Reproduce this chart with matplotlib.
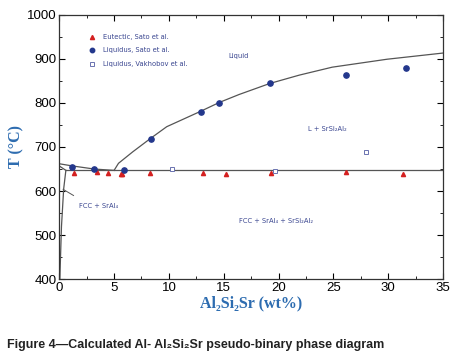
import matplotlib.pyplot as plt
from matplotlib.ticker import MultipleLocator

eut_x = [1.3, 3.4, 4.4, 5.6, 5.75, 8.3, 13.1, 15.2, 19.3, 26.2, 31.4]
eut_y = [640, 643, 642, 639, 639, 640, 642, 639, 640, 643, 638]

liq_sato_x = [1.2, 3.2, 5.9, 8.35, 12.9, 14.55, 19.2, 26.15, 31.6]
liq_sato_y = [655, 650, 648, 719, 780, 799, 844, 863, 879]

liq_vak_x = [10.3, 19.7, 28.0]
liq_vak_y = [650, 645, 689]

# calculated boundaries
liquidus_x = [5.0, 5.4, 6.7, 8.3, 9.8, 12.9, 14.6, 16.4, 19.2, 21.9, 24.9, 29.9, 35.0]
liquidus_y = [647, 663, 689, 719, 746, 781, 801, 819, 844, 863, 881, 899, 913]
al_liq_x = [0.0, 1.2, 3.2, 5.0]
al_liq_y = [662, 657, 650, 647]
solidus_x = [0.0, 0.6]
solidus_y = [657, 647]
solvus_x = [0.05, 0.2, 0.4, 0.6]
solvus_y = [400, 520, 605, 647]
eutectic_x = [0.6, 35.0]
eutectic_y = [647, 647]

fig = plt.figure(figsize=(4.65, 3.54), dpi=100)
ax = fig.add_axes([0.1275, 0.211, 0.825, 0.7475])

lc = '#555555'
for xs, ys in [(liquidus_x, liquidus_y), (al_liq_x, al_liq_y), (solidus_x, solidus_y),
               (solvus_x, solvus_y), (eutectic_x, eutectic_y)]:
    ax.plot(xs, ys, color=lc, lw=0.9)
# leader line for the FCC label
ax.plot([0.35, 1.3], [604, 590], color=lc, lw=0.7)

red = '#d42020'
navy = '#23378c'
sq = '#6a72b0'
ax.plot(eut_x, eut_y, '^', color=red, ms=3, ls='none')
ax.plot(liq_sato_x, liq_sato_y, 'o', color=navy, ms=3.8, ls='none')
ax.plot(liq_vak_x, liq_vak_y, 's', mfc='white', mec=sq, mew=0.7, ms=3.3, ls='none')

# legend drawn by hand
tc = '#3a4690'
ax.plot(3.0, 949, '^', color=red, ms=3)
ax.plot(3.0, 919, 'o', color=navy, ms=3.2)
ax.plot(3.0, 889, 's', mfc='white', mec=sq, mew=0.7, ms=3)
fs = 4.9
ax.text(4.0, 949, 'Eutectic, Sato et al.', color=tc, fontsize=fs, va='center')
ax.text(4.0, 919, 'Liquidus, Sato et al.', color=tc, fontsize=fs, va='center')
ax.text(4.0, 889, 'Liquidus, Vakhobov et al.', color=tc, fontsize=fs, va='center')

ax.text(16.4, 906, 'Liquid', color=tc, fontsize=fs, ha='center', va='center')
ax.text(24.5, 740, 'L + SrSi₂Al₂', color=tc, fontsize=fs, ha='center', va='center')
ax.text(3.6, 566, 'FCC + SrAl₄', color=tc, fontsize=fs, ha='center', va='center')
ax.text(19.8, 533, 'FCC + SrAl₄ + SrSi₂Al₂', color=tc, fontsize=fs, ha='center', va='center')

ax.set_xlim(0, 35)
ax.set_ylim(400, 1000)
ax.xaxis.set_major_locator(MultipleLocator(5))
ax.xaxis.set_minor_locator(MultipleLocator(2.5))
ax.yaxis.set_major_locator(MultipleLocator(100))
ax.yaxis.set_minor_locator(MultipleLocator(50))
ax.tick_params(which='both', direction='in', top=True, right=True, labelsize=9.5, pad=2)
ax.tick_params(which='major', length=4, width=0.8)
ax.tick_params(which='minor', length=2, width=0.6)
for lab in ax.get_xticklabels() + ax.get_yticklabels():
    lab.set_family('Liberation Sans')
for s in ax.spines.values():
    s.set_linewidth(0.9)
    s.set_color('#333333')

blue = '#2d6cb0'
serif = ['Liberation Serif', 'DejaVu Serif']
ax.set_xlabel('Al₂Si₂Sr (wt%)', family=serif, fontweight='bold',
              fontsize=11.5, color=blue, labelpad=1)
ax.set_ylabel('T (°C)', family=serif, fontweight='bold',
              fontsize=11.5, color=blue, labelpad=2)

fig.text(0.015, 0.018, 'Figure 4\u2014Calculated Al- Al₂Si₂Sr pseudo-binary phase diagram',
         family=['Liberation Sans', 'DejaVu Sans'], fontweight='bold', fontsize=9, color='#222222')

fig.savefig('out.png', dpi=100)
